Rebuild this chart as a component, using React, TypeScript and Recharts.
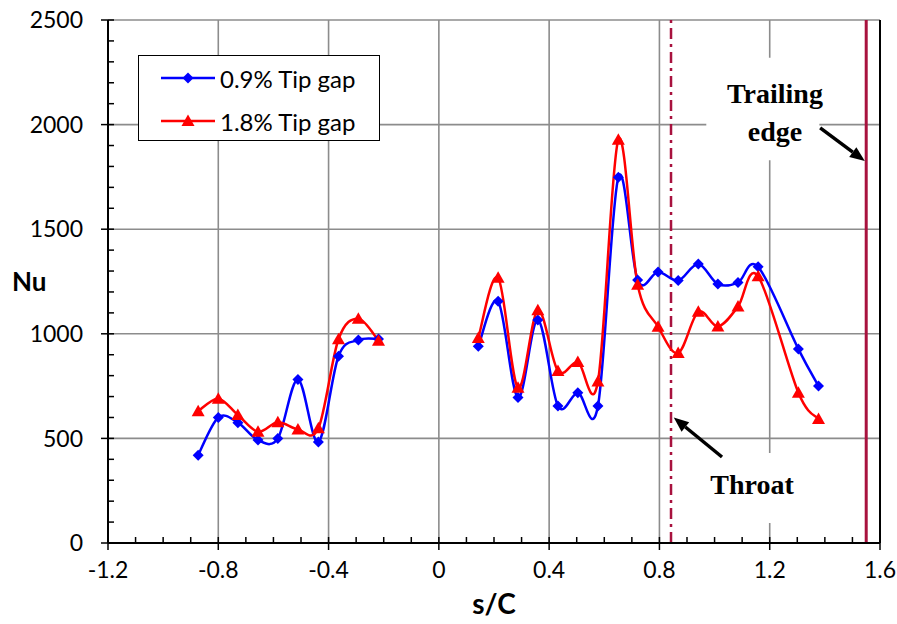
import {
  LineChart,
  Line,
  XAxis,
  YAxis,
  CartesianGrid,
  Legend,
  ReferenceLine,
  ReferenceArea,
  ReferenceDot,
} from "recharts";

// s/C positions (left cluster, gap, right cluster)
const S_POS = [
  -0.873, -0.8, -0.729, -0.656, -0.584, -0.511, -0.437, -0.364, -0.292, -0.219,
  -0.03,
  0.143, 0.215, 0.287, 0.359, 0.432, 0.504, 0.577, 0.651, 0.721, 0.795, 0.868,
  0.941, 1.012, 1.085, 1.158, 1.304, 1.377,
];

const GAP_09 = [
  420, 600, 575, 492, 500, 782, 483, 893, 970, 975,
  null,
  940, 1155, 695, 1066, 655, 718, 655, 1748, 1257, 1296, 1255, 1334, 1238,
  1245, 1320, 927, 750,
];

const GAP_18 = [
  630, 690, 612, 532, 577, 543, 548, 974, 1072, 967,
  null,
  980, 1268, 742, 1112, 822, 865, 772, 1928, 1235, 1034, 908, 1105, 1035,
  1130, 1275, 718, 593,
];

const X_TICKS = [-1.2, -0.8, -0.4, 0, 0.4, 0.8, 1.2, 1.6];
const X_MINOR = [
  -1.2, -1.1, -1.0, -0.9, -0.8, -0.7, -0.6, -0.5, -0.4, -0.3, -0.2, -0.1, 0,
  0.1, 0.2, 0.3, 0.4, 0.5, 0.6, 0.7, 0.8, 0.9, 1.0, 1.1, 1.2, 1.3, 1.4, 1.5,
  1.6,
];
const Y_TICKS = [0, 500, 1000, 1500, 2000, 2500];
const Y_MINOR = [
  0, 100, 200, 300, 400, 500, 600, 700, 800, 900, 1000, 1100, 1200, 1300, 1400,
  1500, 1600, 1700, 1800, 1900, 2000, 2100, 2200, 2300, 2400, 2500,
];

const THROAT_X = 0.842;
const TRAILING_X = 1.55;

// annotation anchors, in data units
const TRAILING_TEXT = { x: 1.219, y1: 2151, y2: 1965 };
const TRAILING_ARROW = { x1: 1.383, y1: 1984, x2: 1.545, y2: 1826 };
const TRAILING_BOX = { x1: 0.97, x2: 1.38, y1: 1830, y2: 2320 };
const THROAT_TEXT = { x: 1.136, y: 282 };
const THROAT_ARROW = { x1: 1.027, y1: 411, x2: 0.852, y2: 600 };
const THROAT_BOX = { x1: 0.93, x2: 1.36, y1: 96, y2: 430 };

const BLUE = "#0000ff";
const RED = "#ff0000";
const MAROON = "#a8123e";
const FONT = "Lato, 'Open Sans', sans-serif";
const SERIF = "'Liberation Serif', 'DejaVu Serif', serif";

const data = S_POS.map((s, i) => ({
  s,
  small: GAP_09[i],
  large: GAP_18[i],
}));

// Excel-like smoothed line (uniform Catmull-Rom as cubic beziers)
function smoothCurve(context: any) {
  let pts: Array<[number, number]> = [];
  return {
    areaStart() {},
    areaEnd() {},
    lineStart() {
      pts = [];
    },
    lineEnd() {
      if (!pts.length) return;
      context.moveTo(pts[0][0], pts[0][1]);
      for (let i = 0; i < pts.length - 1; i++) {
        const p0 = pts[Math.max(i - 1, 0)];
        const p1 = pts[i];
        const p2 = pts[i + 1];
        const p3 = pts[Math.min(i + 2, pts.length - 1)];
        context.bezierCurveTo(
          p1[0] + (p2[0] - p0[0]) / 6,
          p1[1] + (p2[1] - p0[1]) / 6,
          p2[0] - (p3[0] - p1[0]) / 6,
          p2[1] - (p3[1] - p1[1]) / 6,
          p2[0],
          p2[1]
        );
      }
    },
    point(x: number, y: number) {
      pts.push([x, y]);
    },
  };
}

const diamondDot = (props: any) => {
  const { cx, cy, value, index } = props;
  if (value == null || cx == null || cy == null) return <g key={`d${index}`} />;
  const r = 5.5;
  return (
    <polygon
      key={`d${index}`}
      points={`${cx},${cy - r} ${cx + r},${cy} ${cx},${cy + r} ${cx - r},${cy}`}
      fill={BLUE}
    />
  );
};

const triangleDot = (props: any) => {
  const { cx, cy, value, index } = props;
  if (value == null || cx == null || cy == null) return <g key={`t${index}`} />;
  return (
    <polygon
      key={`t${index}`}
      points={`${cx},${cy - 6.5} ${cx + 6.5},${cy + 5} ${cx - 6.5},${cy + 5}`}
      fill={RED}
    />
  );
};

// axis ticks: minor marks point inward, major marks point outward and carry the label
const XTick = (props: any) => {
  const { x, y, payload } = props;
  const major = X_TICKS.includes(payload.value);
  return (
    <g>
      <line x1={x} y1={y - 6} x2={x} y2={major ? y + 7 : y} stroke="#000" strokeWidth={1.5} />
      {major && (
        <text
          x={x}
          y={y + 35}
          textAnchor="middle"
          fontFamily={FONT}
          fontSize={23}
          fill="#000"
        >
          {String(payload.value)}
        </text>
      )}
    </g>
  );
};

const YTick = (props: any) => {
  const { x, y, payload } = props;
  const major = Y_TICKS.includes(payload.value);
  return (
    <g>
      <line x1={major ? x - 7 : x} y1={y} x2={x + 6} y2={y} stroke="#000" strokeWidth={1.5} />
      {major && (
        <text
          x={x - 25}
          y={y}
          dy="0.36em"
          textAnchor="end"
          fontFamily={FONT}
          fontSize={23}
          fill="#000"
        >
          {String(payload.value)}
        </text>
      )}
    </g>
  );
};

const arrowShape = (props: any) => {
  const { x1, y1, x2, y2 } = props;
  const ang = Math.atan2(y2 - y1, x2 - x1);
  const len = 15;
  const half = 6;
  const bx = x2 - len * Math.cos(ang);
  const by = y2 - len * Math.sin(ang);
  const px = -Math.sin(ang) * half;
  const py = Math.cos(ang) * half;
  return (
    <g>
      <line x1={x1} y1={y1} x2={bx} y2={by} stroke="#000" strokeWidth={3.5} />
      <polygon
        points={`${x2},${y2} ${bx + px},${by + py} ${bx - px},${by - py}`}
        fill="#000"
      />
    </g>
  );
};

const textShape = (label: string) => (props: any) => {
  const { cx, cy } = props;
  return (
    <text
      x={cx}
      y={cy}
      textAnchor="middle"
      dominantBaseline="central"
      fontFamily={SERIF}
      fontWeight="bold"
      fontSize={28}
      fill="#000"
    >
      {label}
    </text>
  );
};

const LegendBox = () => (
  <div
    style={{
      width: 240,
      height: 84,
      border: "1.5px solid #000",
      background: "#fff",
      fontFamily: FONT,
      fontSize: 24,
      color: "#000",
      boxSizing: "content-box",
    }}
  >
    {[
      { label: "0.9% Tip gap", color: BLUE, shape: "diamond" },
      { label: "1.8% Tip gap", color: RED, shape: "triangle" },
    ].map((item, i) => (
      <div
        key={item.label}
        style={{
          position: "absolute",
          left: 23,
          top: i === 0 ? 8 : 51,
          height: 30,
          display: "flex",
          alignItems: "center",
          whiteSpace: "nowrap",
        }}
      >
        <svg width={56} height={20} style={{ marginRight: 3 }}>
          <line x1={0} y1={10} x2={54} y2={10} stroke={item.color} strokeWidth={2.5} />
          {item.shape === "diamond" ? (
            <polygon points="27,4.5 32.5,10 27,15.5 21.5,10" fill={item.color} />
          ) : (
            <polygon points="27,3.5 33.5,15 20.5,15" fill={item.color} />
          )}
        </svg>
        <span>{item.label}</span>
      </div>
    ))}
  </div>
);

export default function App() {
  return (
    <div style={{ position: "absolute", left: 0, top: 0, background: "#fff" }}>
      <LineChart
        width={897}
        height={624}
        data={data}
        margin={{ top: 20, right: 17, left: 0, bottom: 0 }}
      >
        <CartesianGrid
          stroke="#8c8c8c"
          strokeWidth={1.6}
          verticalValues={X_TICKS}
          horizontalValues={Y_TICKS}
        />
        <ReferenceArea
          x1={TRAILING_BOX.x1}
          x2={TRAILING_BOX.x2}
          y1={TRAILING_BOX.y1}
          y2={TRAILING_BOX.y2}
          fill="#fff"
          fillOpacity={1}
          stroke="none"
        />
        <ReferenceArea
          x1={THROAT_BOX.x1}
          x2={THROAT_BOX.x2}
          y1={THROAT_BOX.y1}
          y2={THROAT_BOX.y2}
          fill="#fff"
          fillOpacity={1}
          stroke="none"
        />
        <XAxis
          dataKey="s"
          type="number"
          domain={[-1.2, 1.6]}
          ticks={X_MINOR}
          interval={0}
          allowDataOverflow
          tick={<XTick />}
          tickSize={0}
          tickMargin={0}
          tickLine={false}
          axisLine={{ stroke: "#000", strokeWidth: 2 }}
          height={81}
          label={{
            value: "s/C",
            position: "insideBottom",
            offset: 10,
            style: { fontFamily: FONT, fontWeight: "bold", fontSize: 28, fill: "#000" },
          }}
        />
        <YAxis
          type="number"
          domain={[0, 2500]}
          ticks={Y_MINOR}
          interval={0}
          allowDataOverflow
          width={108}
          tick={<YTick />}
          tickSize={0}
          tickMargin={0}
          tickLine={false}
          axisLine={{ stroke: "#000", strokeWidth: 2 }}
          label={{
            value: "Nu",
            position: "insideLeft",
            offset: 12,
            style: { fontFamily: FONT, fontWeight: "bold", fontSize: 26, fill: "#000" },
          }}
        />
        <ReferenceLine x={1.6} stroke="#000" strokeWidth={2} />
        <ReferenceLine
          x={THROAT_X}
          stroke={MAROON}
          strokeWidth={2.5}
          strokeDasharray="11 5 3 5"
        />
        <ReferenceLine x={TRAILING_X} stroke={MAROON} strokeWidth={3} />
        <Line
          dataKey="small"
          name="0.9% Tip gap"
          type={smoothCurve as any}
          stroke={BLUE}
          strokeWidth={2.5}
          dot={diamondDot}
          activeDot={false}
          connectNulls={false}
          isAnimationActive={false}
        />
        <Line
          dataKey="large"
          name="1.8% Tip gap"
          type={smoothCurve as any}
          stroke={RED}
          strokeWidth={2.5}
          dot={triangleDot}
          activeDot={false}
          connectNulls={false}
          isAnimationActive={false}
        />
        <ReferenceLine
          segment={[
            { x: TRAILING_ARROW.x1, y: TRAILING_ARROW.y1 },
            { x: TRAILING_ARROW.x2, y: TRAILING_ARROW.y2 },
          ]}
          shape={arrowShape}
        />
        <ReferenceLine
          segment={[
            { x: THROAT_ARROW.x1, y: THROAT_ARROW.y1 },
            { x: THROAT_ARROW.x2, y: THROAT_ARROW.y2 },
          ]}
          shape={arrowShape}
        />
        <ReferenceDot x={TRAILING_TEXT.x} y={TRAILING_TEXT.y1} shape={textShape("Trailing")} />
        <ReferenceDot x={TRAILING_TEXT.x} y={TRAILING_TEXT.y2} shape={textShape("edge")} />
        <ReferenceDot x={THROAT_TEXT.x} y={THROAT_TEXT.y} shape={textShape("Throat")} />
        <Legend
          layout="vertical"
          align="center"
          verticalAlign="middle"
          content={() => <LegendBox />}
          wrapperStyle={{ left: 138, top: 55, width: 243, height: 87 }}
        />
      </LineChart>
    </div>
  );
}
